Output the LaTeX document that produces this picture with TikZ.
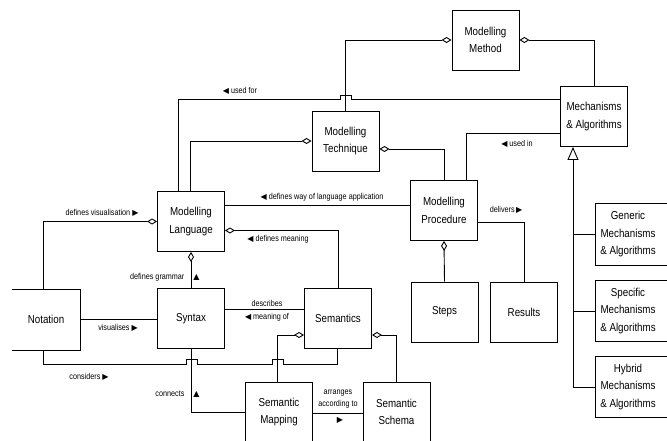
\documentclass[tikz,border=0pt]{standalone}
\usepackage{fontspec}
\setmainfont{Liberation Sans}[FakeStretch=0.85]
\newfontfamily\symfont{DejaVu Sans}
\usetikzlibrary{arrows.meta, calc}
\newcommand{\tril}{{\symfont\fontsize{8}{8}\selectfont ◀}}
\newcommand{\trir}{{\symfont\fontsize{8}{8}\selectfont ▶}}
\newcommand{\triu}{{\symfont\fontsize{8}{8}\selectfont ▲}}

\begin{document}
\begin{tikzpicture}[x=1pt, y=-1pt, line width=0.9pt,
  box/.style={draw, minimum width=67pt, minimum height=60pt, align=center, inner sep=1pt, font=\fontsize{11.5}{17.5}\selectfont},
  openbox/.style={box, draw=none},
  lbl/.style={inner sep=0pt, align=center, font=\fontsize{8.5}{12.5}\selectfont},
  agg/.style={{Diamond[open, length=10pt, width=6pt]}-},
  isa/.style={-{Triangle[open, length=13pt, width=11pt]}}]
  \useasboundingbox (0,0) rectangle (667,440);
  \fill[white] (0,0) rectangle (667,440);

  % Method level
  \node[box] (meth) at (485.5,40) {Modelling\\Method};
  \node[box] (mech) at (594,116.5) {Mechanisms\\\& Algorithms};
  \node[box] (tech) at (345.5,141) {Modelling\\Technique};
  \node[box] (proc) at (444,210.5) {Modelling\\Procedure};
  \node[box] (steps) at (444.5,312) {Steps};
  \node[box] (res) at (524,312) {Results};

  % Language level
  \node[box] (lang) at (191,221.5) {Modelling\\Language};
  \node[openbox] (notat) at (46,319.5) {Notation};
  \node[box] (syn) at (191,318.5) {Syntax};
  \node[box] (sem) at (338,318) {Semantics};
  \node[box] (smap) at (279,412) {Semantic\\Mapping};
  \node[box] (ssch) at (396.5,412) {Semantic\\Schema};

  % Kinds of mechanisms
  \node[openbox, minimum width=64pt, minimum height=61pt] (gen) at (628,234.5) {Generic\\Mechanisms\\\& Algorithms};
  \node[openbox, minimum width=64pt] (spec) at (628,311) {Specific\\Mechanisms\\\& Algorithms};
  \node[openbox, minimum width=64pt] (hyb) at (628,387) {Hybrid\\Mechanisms\\\& Algorithms};

  % boxes cut by the border
  \draw (notat.north west) -- (notat.north east) -- (notat.south east) -- (notat.south west);
  \draw (gen.north west -| 667,0) -- (gen.north west) -- (gen.south west) -- (gen.south west -| 667,0);
  \draw (spec.north west -| 667,0) -- (spec.north west) -- (spec.south west) -- (spec.south west -| 667,0);
  \draw (hyb.north west -| 667,0) -- (hyb.north west) -- (hyb.south west) -- (hyb.south west -| 667,0);

  % Aggregations
  \draw[agg] (meth.west) -| (tech.north);
  \draw[agg] (meth.east) -| (mech.north);
  \draw[agg] (tech.west) -- (190,141) -- (lang.north -| 190,0);
  \draw[agg] ($(tech.east)+(0,8)$) -| (proc.north);
  \draw[agg] (proc.south) -- (steps.north);
  \draw[agg] (lang.west) -- (43,221.5) -- (notat.north -| 43,0);
  \draw[agg] ($(lang.east)+(0,9)$) -| (sem.north);
  \draw[agg] (lang.south) -- (syn.north);
  \draw[agg] (sem.west |- 0,335) -- (277,335) -- (smap.north -| 277,0);
  \draw[agg] (sem.east |- 0,335) -| (ssch.north);

  % Associations
  \draw (mech.west |- 0,99) -- (351,99) -- (351,95) -- (340,95) -- (340,99) -- (178,99) -- (lang.north -| 178,0);
  \node[lbl] (usedfor) at (240,91) {\tril\ used for};
  \draw (mech.west |- 0,133) -- (466,133) -- (proc.north -| 466,0);
  \node[lbl] (usedin) at (517,144) {\tril\ used in};
  \draw (lang.east |- 0,205) -- (proc.west |- 0,205);
  \node[lbl] (wayapp) at (322,197) {\tril\ defines way of language application};
  \draw (proc.east |- 0,222) -| (res.north);
  \node[lbl] (deliv) at (506,210) {delivers\,\trir};
  \node[lbl] (defvis) at (102,213) {defines visualisation \trir};
  \node[lbl] (defmean) at (278,239) {\tril\ defines meaning};
  \node[lbl, anchor=east] (defgram) at (200,277) {defines grammar\hspace{9pt}\triu};
  \draw (notat.east) -- (notat.east -| syn.west);
  \node[lbl] (visual) at (118,328) {visualises \trir};
  \draw (syn.east |- 0,309) -- (sem.west |- 0,309);
  \node[lbl] (descr) at (267,311) {describes\\\tril\ meaning of};
  \draw (notat.south -| 43,0) -- (43,364) -- (186,364) -- (186,359) -- (197,359) -- (197,364)
    -- (272,364) -- (272,359) -- (283,359) -- (283,364) -- (337,364) -- (sem.south -| 337,0);
  \node[lbl] (consid) at (89,377) {considers \trir};
  \draw (syn.south) -- (191,412) -- (smap.west |- 0,412);
  \node[lbl, anchor=east] (conn) at (200,394) {connects\hspace{9pt}\triu};
  \draw (smap.east |- 0,413) -- (ssch.west |- 0,413);
  \node[lbl] (arrange) at (338,399) {arranges\\according to};
  \node[lbl] (arrtri) at (340,420) {\trir};

  % Specialisation
  \coordinate (trunk) at (573,387);
  \draw[isa] (trunk) -- (mech.south -| 573,0);
  \draw (573,234.5) -- (gen.west);
  \draw (573,311) -- (spec.west);
  \draw (trunk) -- (hyb.west);
\end{tikzpicture}
\end{document}
